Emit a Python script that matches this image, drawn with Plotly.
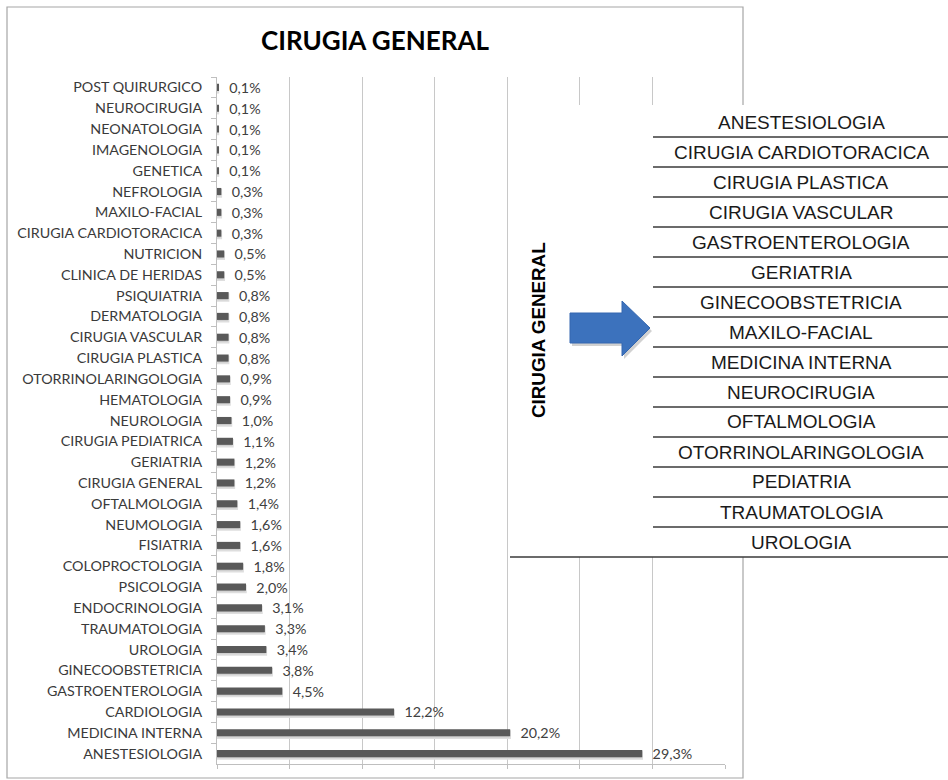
import plotly.graph_objects as go

# ---------------- data ----------------
categories = [
    "POST QUIRURGICO", "NEUROCIRUGIA", "NEONATOLOGIA", "IMAGENOLOGIA", "GENETICA",
    "NEFROLOGIA", "MAXILO-FACIAL", "CIRUGIA CARDIOTORACICA", "NUTRICION",
    "CLINICA DE HERIDAS", "PSIQUIATRIA", "DERMATOLOGIA", "CIRUGIA VASCULAR",
    "CIRUGIA PLASTICA", "OTORRINOLARINGOLOGIA", "HEMATOLOGIA", "NEUROLOGIA",
    "CIRUGIA PEDIATRICA", "GERIATRIA", "CIRUGIA GENERAL", "OFTALMOLOGIA",
    "NEUMOLOGIA", "FISIATRIA", "COLOPROCTOLOGIA", "PSICOLOGIA", "ENDOCRINOLOGIA",
    "TRAUMATOLOGIA", "UROLOGIA", "GINECOOBSTETRICIA", "GASTROENTEROLOGIA",
    "CARDIOLOGIA", "MEDICINA INTERNA", "ANESTESIOLOGIA",
]
values = [
    0.1, 0.1, 0.1, 0.1, 0.1,
    0.3, 0.3, 0.3, 0.5,
    0.5, 0.8, 0.8, 0.8,
    0.8, 0.9, 0.9, 1.0,
    1.1, 1.2, 1.2, 1.4,
    1.6, 1.6, 1.8, 2.0, 3.1,
    3.3, 3.4, 3.8, 4.5,
    12.2, 20.2, 29.3,
]
value_labels = [f"{v:.1f}".replace(".", ",") + "%" for v in values]

title_text = "CIRUGIA GENERAL"
side_label = "CIRUGIA GENERAL"
table_items = [
    "ANESTESIOLOGIA", "CIRUGIA CARDIOTORACICA", "CIRUGIA PLASTICA",
    "CIRUGIA VASCULAR", "GASTROENTEROLOGIA", "GERIATRIA", "GINECOOBSTETRICIA",
    "MAXILO-FACIAL", "MEDICINA INTERNA", "NEUROCIRUGIA", "OFTALMOLOGIA",
    "OTORRINOLARINGOLOGIA", "PEDIATRIA", "TRAUMATOLOGIA", "UROLOGIA",
]

# ---------------- layout geometry ----------------
W_FIG, H_FIG = 948, 780
M_L, M_R, M_T, M_B = 217, 223, 77, 16
PW = W_FIG - M_L - M_R
PH = H_FIG - M_T - M_B


def px(x):
    return (x - M_L) / PW


def py(y):
    return (H_FIG - M_B - y) / PH


BAR_W = 0.34
FONT_LBL = "Lato, 'Open Sans', sans-serif"
FONT_TBL = "'Liberation Sans', Arial, sans-serif"

fig = go.Figure()

# shadow of bars
fig.add_trace(go.Bar(
    y=categories, x=values, orientation="h",
    width=BAR_W, offset=-BAR_W / 2 + 0.09,
    marker=dict(color="#cfcfcf", line=dict(color="#dedede", width=1.5)),
    hoverinfo="skip", showlegend=False,
))
# main bars
fig.add_trace(go.Bar(
    y=categories, x=values, orientation="h",
    width=BAR_W, offset=-BAR_W / 2,
    marker=dict(color="#595959", line=dict(width=0)),
    text=["\u00a0\u00a0" + t for t in value_labels],
    textposition="outside", cliponaxis=False, constraintext="none",
    textfont=dict(family=FONT_LBL, size=14.3, color="#404040"),
    showlegend=False,
))

shapes = []
# outer panel border
shapes.append(dict(type="rect", xref="paper", yref="paper",
                   x0=px(7), x1=px(743), y0=py(778), y1=py(7),
                   line=dict(color="#a6a6a6", width=1.2), layer="below"))
# white overlay box
shapes.append(dict(type="rect", xref="paper", yref="paper",
                   x0=px(509), x1=px(952), y0=py(557), y1=py(105),
                   fillcolor="white", line=dict(width=0), layer="above"))
# table row lines
for i in range(len(table_items) - 1):
    yy = 137 + 30 * i
    shapes.append(dict(type="line", xref="paper", yref="paper",
                       x0=px(653), x1=px(952), y0=py(yy), y1=py(yy),
                       line=dict(color="#3a3a3a", width=1.6), layer="above"))
# bottom line of box
shapes.append(dict(type="line", xref="paper", yref="paper",
                   x0=px(510), x1=px(952), y0=py(557), y1=py(557),
                   line=dict(color="#3a3a3a", width=1.6), layer="above"))


def arrow_path(dx=0, dy=0):
    pts = [(570, 313), (622, 313), (622, 301), (650, 328), (622, 356),
           (622, 343), (570, 343)]
    s = ""
    for k, (a, b) in enumerate(pts):
        s += ("M" if k == 0 else "L") + f"{px(a + dx)},{py(b + dy)} "
    return s + "Z"


shapes.append(dict(type="path", xref="paper", yref="paper", path=arrow_path(2, 3),
                   fillcolor="rgba(0,0,0,0.18)", line=dict(width=0), layer="above"))
shapes.append(dict(type="path", xref="paper", yref="paper", path=arrow_path(),
                   fillcolor="#3c72bd", line=dict(color="#3467b0", width=1),
                   layer="above"))

annotations = []
annotations.append(dict(xref="paper", yref="paper", x=px(375), y=py(40),
                        text=title_text, showarrow=False,
                        xanchor="center", yanchor="middle",
                        font=dict(family=FONT_LBL, size=26, color="#000000",
                                  weight=700)))
annotations.append(dict(xref="paper", yref="paper", x=px(538), y=py(330),
                        text=side_label, showarrow=False, textangle=-90,
                        xanchor="center", yanchor="middle",
                        font=dict(family=FONT_TBL, size=18.8, color="#000000",
                                  weight=700)))
for i, item in enumerate(table_items):
    annotations.append(dict(xref="paper", yref="paper", x=px(801),
                            y=py(122 + 30 * i), text=item, showarrow=False,
                            xanchor="center", yanchor="middle",
                            font=dict(family=FONT_TBL, size=19, color="#1a1a1a")))

fig.update_layout(
    width=W_FIG, height=H_FIG,
    margin=dict(l=M_L, r=M_R, t=M_T, b=M_B, autoexpand=False),
    paper_bgcolor="white", plot_bgcolor="white",
    barmode="overlay", bargap=0.66,
    shapes=shapes, annotations=annotations,
    showlegend=False,
    xaxis=dict(range=[0, 35], dtick=5, tick0=0, showgrid=True,
               gridcolor="#c8c8c8", gridwidth=1, zeroline=False,
               showticklabels=False, showline=True, linecolor="#bfbfbf",
               ticks="outside", ticklen=4, tickcolor="#bfbfbf",
               automargin=False, fixedrange=True),
    yaxis=dict(type="category", autorange="reversed", showgrid=False,
               showline=True, linecolor="#bfbfbf", ticks="outside",
               tickson="boundaries", ticklen=5, tickcolor="#bfbfbf",
               ticklabelstandoff=11,
               tickfont=dict(family=FONT_LBL, size=14.3, color="#3a3a3a"),
               automargin=False, fixedrange=True),
)

fig.write_html(
    "out.html",
    config={"displayModeBar": False},
    post_script="document.body.style.margin='0';document.body.style.overflow='hidden';",
)
